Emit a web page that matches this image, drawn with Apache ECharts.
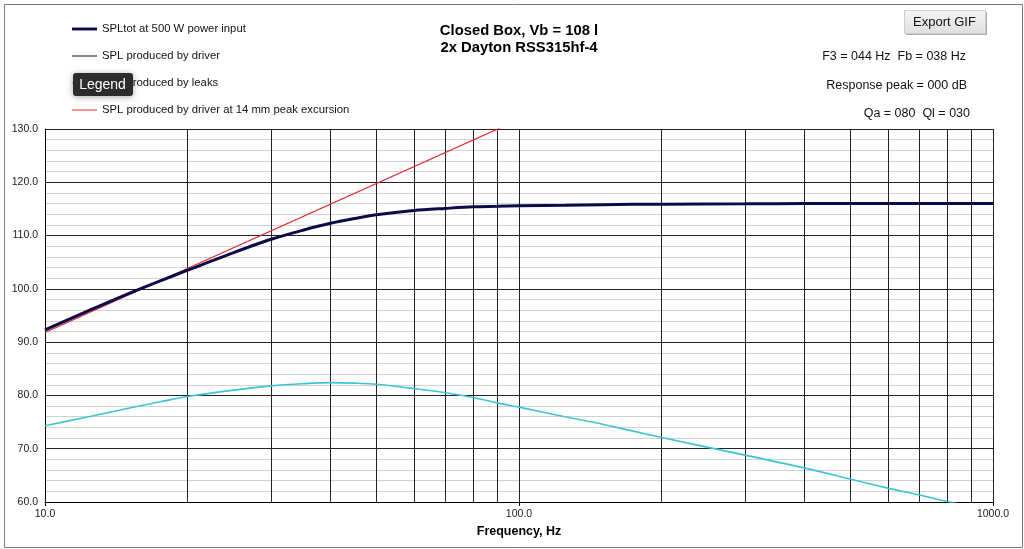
<!DOCTYPE html>
<html>
<head>
<meta charset="utf-8">
<script src="https://cdn.jsdelivr.net/npm/echarts@6/dist/echarts.min.js"></script>
<style>
html,body{margin:0;padding:0;background:#fff;}
#chart{width:1024px;height:549px;}
</style>
</head>
<body>
<div id="chart"></div>
<script>
// ---- data ----
const freqHz = [10, 12.5, 15, 17.5, 20, 25, 30, 35, 40, 45, 50, 60, 70, 80, 90, 100, 125, 150, 200, 300, 400, 500, 600, 700, 800, 900, 1000];
const splTotal = [92.3, 96.1, 99.1, 101.5, 103.5, 106.8, 109.3, 111.0, 112.3, 113.2, 113.9, 114.7, 115.1, 115.4, 115.5, 115.6, 115.7, 115.8, 115.9, 115.95, 116.0, 116.0, 116.0, 116.0, 116.0, 116.0, 116.0];
const splDriver = [92.2, 96.0, 99.0, 101.4, 103.4, 106.7, 109.2, 111.0, 112.3, 113.2, 113.9, 114.7, 115.1, 115.4, 115.5, 115.6, 115.7, 115.8, 115.9, 115.95, 116.0, 116.0, 116.0, 116.0, 116.0, 116.0, 116.0];
const splLeaks = [74.3, 76.1, 77.6, 78.8, 79.8, 81.0, 81.8, 82.2, 82.4, 82.3, 82.1, 81.3, 80.5, 79.6, 78.6, 77.8, 76.0, 74.6, 72.1, 68.8, 66.4, 64.3, 62.6, 61.3, 60.1, 59.1, 58.2];
const excursionFreq = [10, 100];
const splExcursion = [91.8, 131.8];
const minorFreqLines = [20, 30, 40, 50, 60, 70, 80, 90, 200, 300, 400, 500, 600, 700, 800, 900];
const seriesNames = [
  'SPLtot at 500 W power input',
  'SPL produced by driver',
  'SPL produced by leaks',
  'SPL produced by driver at 14 mm peak excursion'
];
const titleLines = ['Closed Box, Vb = 108 l', '2x Dayton RSS315hf-4'];
const infoLines = ['F3 = 044 Hz  Fb = 038 Hz', 'Response peak = 000 dB', 'Qa = 080  Ql = 030'];
const xName = 'Frequency, Hz';

const FONT = "'Liberation Sans', Arial, sans-serif";
const pairs = (xs, ys) => xs.map((x, i) => [x, ys[i]]);
const thickIcon = 'path://M0,0H26V3H0Z';
const thinIcon = 'path://M0,0H26V1H0Z';

const chart = echarts.init(document.getElementById('chart'), null, {renderer: 'canvas'});
const option = {
  animation: false,
  backgroundColor: '#ffffff',
  textStyle: {fontFamily: FONT},
  title: {
    text: titleLines.join('\n'),
    left: 514,
    top: 17,
    textAlign: 'center',
    textStyle: {fontFamily: FONT, fontSize: 14.8, fontWeight: 'bold', color: '#000', lineHeight: 17}
  },
  legend: {
    orient: 'vertical',
    left: 67,
    top: 17,
    itemWidth: 25,
    itemHeight: 14,
    itemGap: 13,
    symbolKeepAspect: true,
    data: seriesNames.map((n, i) => ({name: n, icon: i === 0 ? thickIcon : thinIcon})),
    textStyle: {fontFamily: FONT, fontSize: 11.3, color: '#111', lineHeight: 14}
  },
  grid: {left: 45, right: 31, top: 129, bottom: 47},
  xAxis: {
    type: 'log',
    logBase: 10,
    min: 10,
    max: 1000,
    name: xName,
    nameLocation: 'middle',
    nameGap: 20,
    nameTextStyle: {fontFamily: FONT, fontSize: 12.5, fontWeight: 'bold', color: '#000'},
    axisLine: {lineStyle: {color: '#000', width: 1}},
    axisTick: {show: true, length: 4, lineStyle: {color: '#000'}},
    axisLabel: {fontFamily: FONT, fontSize: 10.5, color: '#222', margin: 7, formatter: v => Number(v).toFixed(1)},
    splitLine: {show: true, lineStyle: {color: '#222', width: 1}}
  },
  yAxis: {
    type: 'value',
    min: 60,
    max: 130,
    interval: 2,
    axisLine: {show: true, lineStyle: {color: '#000', width: 1}},
    axisTick: {show: false},
    axisLabel: {
      fontFamily: FONT, fontSize: 10.5, color: '#222', margin: 7,
      formatter: v => (Math.round(v) % 10 === 0 ? Number(v).toFixed(1) : '')
    },
    splitLine: {show: true, lineStyle: {color: ['#222', '#d2d2d2', '#d2d2d2', '#d2d2d2', '#d2d2d2'], width: 1}}
  },
  series: [
    {
      name: seriesNames[1],
      type: 'line',
      data: pairs(freqHz, splDriver),
      symbol: 'none',
      smooth: 0.3,
      lineStyle: {color: '#000', width: 1},
      itemStyle: {color: '#000'},
      z: 2,
      markLine: {
        silent: true,
        symbol: ['none', 'none'],
        label: {show: false},
        z: 1,
        lineStyle: {color: '#222', width: 1, type: 'solid'},
        emphasis: {disabled: true},
        data: minorFreqLines.map(f => ({xAxis: f}))
      }
    },
    {
      name: seriesNames[2],
      type: 'line',
      data: pairs(freqHz, splLeaks),
      symbol: 'none',
      smooth: 0.3,
      lineStyle: {color: '#3ec4d4', width: 1.6},
      itemStyle: {color: '#3ec4d4'},
      z: 3
    },
    {
      name: seriesNames[3],
      type: 'line',
      data: pairs(excursionFreq, splExcursion),
      symbol: 'none',
      clip: true,
      lineStyle: {color: '#e0262b', width: 1.2},
      itemStyle: {color: '#e0262b'},
      z: 4
    },
    {
      name: seriesNames[0],
      type: 'line',
      data: pairs(freqHz, splTotal),
      symbol: 'none',
      smooth: 0.3,
      lineStyle: {color: '#0b0b4a', width: 3},
      itemStyle: {color: '#0b0b4a'},
      z: 5
    }
  ],
  graphic: [
    {
      type: 'rect', left: 2, top: 2, z: -1,
      shape: {width: 1018, height: 543},
      style: {fill: 'none', stroke: '#7a7a7a', lineWidth: 1}
    },
    // Export GIF button
    {
      type: 'rect', left: 906, top: 12, z: 10,
      shape: {width: 81, height: 23},
      style: {fill: '#a8a8a8'}
    },
    {
      type: 'rect', left: 904, top: 10, z: 11,
      shape: {width: 81, height: 23},
      style: {
        fill: new echarts.graphic.LinearGradient(0, 0, 0, 1, [
          {offset: 0, color: '#f6f6f6'}, {offset: 1, color: '#dedede'}
        ]),
        stroke: '#d0d0d0', lineWidth: 1
      }
    },
    {
      type: 'text', x: 944.5, y: 22, z: 12,
      style: {text: 'Export GIF', font: '13px ' + FONT, fill: '#111', align: 'center', verticalAlign: 'middle'}
    },
    // info texts
    {
      type: 'text', x: 966, y: 57, z: 12,
      style: {text: infoLines[0], font: '12.5px ' + FONT, fill: '#111', align: 'right', verticalAlign: 'middle'}
    },
    {
      type: 'text', x: 967, y: 86, z: 12,
      style: {text: infoLines[1], font: '12.5px ' + FONT, fill: '#111', align: 'right', verticalAlign: 'middle'}
    },
    {
      type: 'text', x: 970, y: 114, z: 12,
      style: {text: infoLines[2], font: '12.5px ' + FONT, fill: '#111', align: 'right', verticalAlign: 'middle'}
    },
    // "Legend" hover badge seen in the reference
    {
      type: 'rect', left: 73, top: 73, z: 20,
      shape: {width: 60, height: 23, r: 3},
      style: {fill: '#2c2c2c', shadowBlur: 6, shadowColor: 'rgba(0,0,0,0.35)', shadowOffsetY: 1}
    },
    {
      type: 'text', x: 102.5, y: 85, z: 21,
      style: {text: 'Legend', font: '14px ' + FONT, fill: '#ffffff', align: 'center', verticalAlign: 'middle'}
    }
  ]
};
chart.setOption(option);
</script>
</body>
</html>
